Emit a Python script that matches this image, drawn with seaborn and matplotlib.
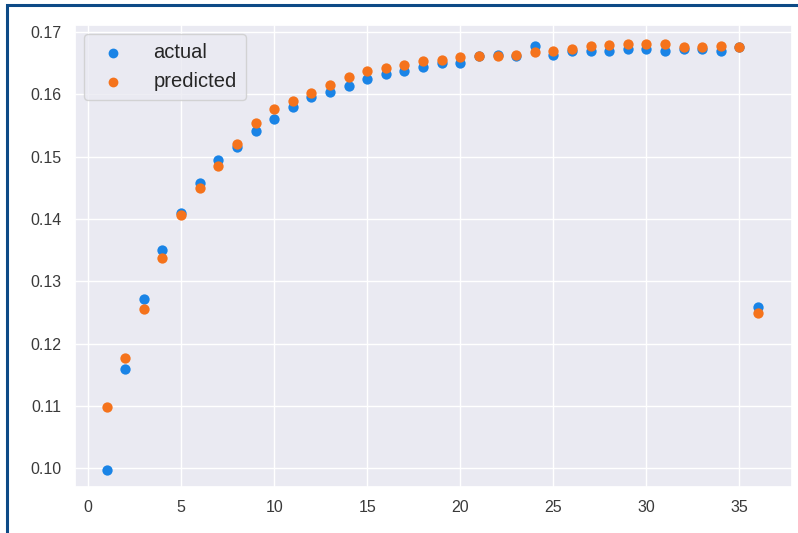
import matplotlib
matplotlib.use("Agg")
import matplotlib.pyplot as plt
from matplotlib.patches import Rectangle
import seaborn as sns
import pandas as pd

# Step index and the two series
steps = list(range(1, 37))
actual = [0.0998, 0.1160, 0.1272, 0.1351, 0.1409, 0.1457, 0.1494, 0.1516, 0.1541,
          0.1561, 0.1579, 0.1596, 0.1604, 0.1614, 0.1625, 0.1632, 0.1638, 0.1643,
          0.1650, 0.1650, 0.1661, 0.1663, 0.1661, 0.1678, 0.1663, 0.1669, 0.1669,
          0.1669, 0.1672, 0.1673, 0.1669, 0.1673, 0.1673, 0.1669, 0.1676, 0.1259]
predicted = [0.1099, 0.1177, 0.1256, 0.1338, 0.1406, 0.1449, 0.1485, 0.1521, 0.1554,
             0.1577, 0.1589, 0.1602, 0.1615, 0.1628, 0.1637, 0.1642, 0.1647, 0.1653,
             0.1655, 0.1660, 0.1661, 0.1662, 0.1663, 0.1667, 0.1670, 0.1672, 0.1677,
             0.1679, 0.1681, 0.1681, 0.1681, 0.1676, 0.1676, 0.1677, 0.1676, 0.1249]

df = pd.DataFrame({"step": steps, "actual": actual, "predicted": predicted})

sns.set_theme(style="darkgrid")
plt.rcParams["font.family"] = ["Liberation Sans", "DejaVu Sans"]

fig = plt.figure(figsize=(7.98, 5.33), dpi=100)
ax = fig.add_axes([0.094, 0.086, 0.898, 0.867])

sns.scatterplot(data=df, x="step", y="actual", ax=ax, color="#1a84e6",
                s=55, linewidth=0, label="actual")
sns.scatterplot(data=df, x="step", y="predicted", ax=ax, color="#f5731c",
                s=55, linewidth=0, label="predicted")

ax.set_xlabel("")
ax.set_ylabel("")
ax.set_xlim(-0.7, 37.8)
ax.set_ylim(0.0970, 0.1711)
ax.set_xticks([0, 5, 10, 15, 20, 25, 30, 35])
yticks = [0.10, 0.11, 0.12, 0.13, 0.14, 0.15, 0.16, 0.17]
ax.set_yticks(yticks)
ax.set_yticklabels([f"{v:.2f}" for v in yticks])
ax.tick_params(labelsize=11.5, colors="#3a3a3a")

leg = ax.legend(loc="upper left", fontsize=14.5, markerscale=0.95,
                handletextpad=1.0, borderpad=0.45, labelspacing=0.5,
                borderaxespad=0.45)

# Frame around the figure
fig.patches.append(Rectangle((7 / 798, -0.05), 1.1, 1.05 - 5 / 533,
                             transform=fig.transFigure, fill=False,
                             edgecolor="#0d4a86", linewidth=2.2, zorder=10))

fig.savefig("out.png", dpi=100)
